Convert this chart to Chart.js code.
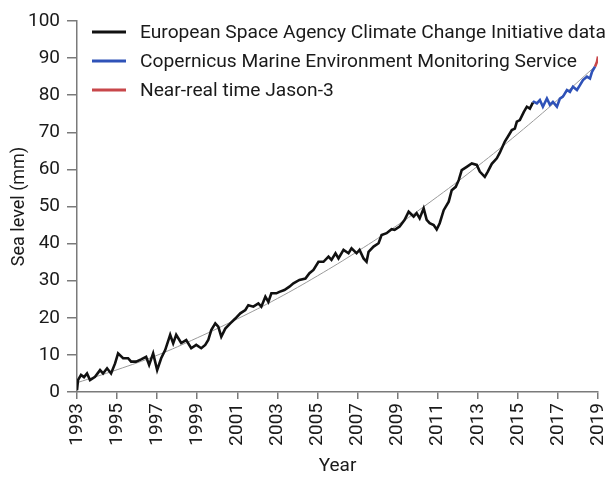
<!DOCTYPE html>
<html>
<head>
<meta charset="utf-8">
<script src="https://cdn.jsdelivr.net/npm/chart.js@4.4.1/dist/chart.umd.min.js"></script>
<style>
  html, body { margin: 0; padding: 0; background: #ffffff; }
  #wrap { width: 610px; height: 479px; position: relative; }
</style>
</head>
<body>
<div id="wrap"><canvas id="c" width="610" height="479"></canvas></div>
<script>
// ---- Data ----
const xTickYears = [1993, 1995, 1997, 1999, 2001, 2003, 2005, 2007, 2009, 2011, 2013, 2015, 2017, 2019];
const yTickValues = [0, 10, 20, 30, 40, 50, 60, 70, 80, 90, 100];

const esaYears = [
  1993.00, 1993.05, 1993.2, 1993.35, 1993.5, 1993.65, 1993.9, 1994.15, 1994.3, 1994.5, 1994.7, 1994.9,
  1995.05, 1995.3, 1995.55, 1995.7, 1995.95, 1996.2, 1996.45, 1996.6, 1996.8, 1997.0, 1997.2, 1997.4,
  1997.65, 1997.8, 1997.95, 1998.2, 1998.45, 1998.7, 1998.95, 1999.2, 1999.4, 1999.55, 1999.7, 1999.9,
  2000.05, 2000.2, 2000.4, 2000.65, 2000.9, 2001.15, 2001.4, 2001.55, 2001.8, 2002.05, 2002.2, 2002.4,
  2002.55, 2002.7, 2002.95, 2003.1, 2003.35, 2003.6, 2003.8, 2004.1, 2004.4, 2004.6, 2004.8, 2005.05,
  2005.3, 2005.55, 2005.7, 2005.9, 2006.05, 2006.3, 2006.55, 2006.7, 2006.95, 2007.1, 2007.3, 2007.45,
  2007.55, 2007.8, 2008.05, 2008.2, 2008.45, 2008.7, 2008.85, 2009.1, 2009.35, 2009.55, 2009.8, 2009.95,
  2010.1, 2010.3, 2010.45, 2010.6, 2010.8, 2010.95, 2011.1, 2011.3, 2011.55, 2011.7, 2011.9, 2012.05,
  2012.2, 2012.45, 2012.7, 2012.95, 2013.1, 2013.35, 2013.5, 2013.7, 2013.95, 2014.1, 2014.35, 2014.5,
  2014.7, 2014.85, 2014.95, 2015.1, 2015.3, 2015.45, 2015.6, 2015.75
];
const esaValues = [
  0.5, 3.2, 4.6, 4.0, 5.0, 3.2, 4.1, 5.9, 5.0, 6.4, 5.0, 7.7,
  10.4, 9.1, 9.1, 8.2, 8.2, 8.8, 9.5, 7.3, 10.4, 5.9, 9.1, 11.3,
  15.4, 13.1, 15.4, 13.2, 14.0, 11.8, 12.7, 11.8, 12.7, 14.0, 16.7, 18.5,
  17.6, 14.9, 17.1, 18.5, 19.8, 21.2, 22.1, 23.4, 23.0, 23.9, 23.0, 25.7,
  24.3, 26.6, 26.6, 27.0, 27.5, 28.4, 29.3, 30.2, 30.6, 32.0, 32.9, 35.1,
  35.1, 36.5, 35.6, 37.4, 36.0, 38.3, 37.4, 38.7, 37.4, 38.3, 36.0, 35.1,
  37.8, 39.2, 40.1, 42.3, 42.8, 43.9, 43.7, 44.6, 46.4, 48.6, 47.3, 48.2,
  46.8, 49.5, 46.4, 45.5, 45.0, 43.8, 45.5, 49.0, 51.3, 54.4, 55.3, 57.1,
  59.8, 60.7, 61.6, 61.2, 59.4, 58.0, 59.4, 61.5, 63.0, 64.5, 67.5, 68.8,
  70.6, 71.0, 72.9, 73.3, 75.5, 76.9, 76.4, 78.0
];

const cmemsYears = [
  2015.75, 2015.8, 2015.95, 2016.1, 2016.25, 2016.45, 2016.6, 2016.75, 2016.95, 2017.1, 2017.25,
  2017.45, 2017.6, 2017.75, 2017.95, 2018.1, 2018.25, 2018.45, 2018.6, 2018.7, 2018.85
];
const cmemsValues = [
  78.0, 78.2, 77.8, 78.7, 76.9, 79.1, 77.4, 78.2, 76.9, 79.1, 79.6,
  81.4, 80.9, 82.3, 81.4, 82.7, 84.1, 85.0, 84.5, 86.3, 87.7
];

const jasonYears = [2018.85, 2018.95, 2019.0];
const jasonValues = [87.7, 89.0, 90.4];

const trendYears = [1993, 1995, 1997, 1999, 2001, 2003, 2005, 2007, 2009, 2011, 2013, 2015, 2017, 2018.8];
const trendValues = [2.5, 6.0, 9.9, 14.6, 19.7, 25.2, 31.3, 37.9, 45.0, 52.7, 60.9, 69.6, 78.8, 87.5];

const seriesLabels = [
  'European Space Agency Climate Change Initiative data',
  'Copernicus Marine Environment Monitoring Service',
  'Near-real time Jason-3'
];

// ---- Build datasets ----
const toPoints = (xs, ys) => xs.map((x, i) => ({ x: x, y: ys[i] }));

const FONT = 'Roboto, "Liberation Sans", sans-serif';
const AXIS_COLOR = '#7a7a7a';
const TEXT_COLOR = '#1a1a1a';

const legendPlugin = {
  id: 'insideLegend',
  afterDraw(chart) {
    const ctx = chart.ctx;
    const rows = [32, 61, 90];
    ctx.save();
    ctx.font = '19.2px ' + FONT;
    ctx.textBaseline = 'middle';
    ctx.textAlign = 'left';
    for (let i = 0; i < 3; i++) {
      const ds = chart.data.datasets[i];
      ctx.strokeStyle = ds.borderColor;
      ctx.lineWidth = 3;
      ctx.beginPath();
      ctx.moveTo(92, rows[i]);
      ctx.lineTo(126, rows[i]);
      ctx.stroke();
      ctx.fillStyle = TEXT_COLOR;
      ctx.fillText(ds.label, 140, rows[i] + 1);
    }
    ctx.restore();
  }
};

new Chart(document.getElementById('c'), {
  type: 'line',
  data: {
    datasets: [
      { label: seriesLabels[0], data: toPoints(esaYears, esaValues), borderColor: '#111111', borderWidth: 2.6, pointRadius: 0, tension: 0, fill: false },
      { label: seriesLabels[1], data: toPoints(cmemsYears, cmemsValues), borderColor: '#2f52b8', borderWidth: 2.6, pointRadius: 0, tension: 0, fill: false },
      { label: seriesLabels[2], data: toPoints(jasonYears, jasonValues), borderColor: '#c8474a', borderWidth: 2.6, pointRadius: 0, tension: 0, fill: false },
      { label: 'trend', data: toPoints(trendYears, trendValues), borderColor: '#9a9a9a', borderWidth: 1, pointRadius: 0, tension: 0.4, fill: false }
    ]
  },
  options: {
    responsive: false,
    animation: false,
    events: [],
    layout: { padding: { top: 21, right: 12, bottom: 0, left: 0 } },
    plugins: { legend: { display: false }, tooltip: { enabled: false } },
    scales: {
      x: {
        type: 'linear',
        min: 1993,
        max: 2019,
        afterBuildTicks: (scale) => { scale.ticks = xTickYears.map(v => ({ value: v })); },
        afterFit: (scale) => { scale.height = 87; scale.paddingRight = 0; scale.paddingLeft = 0; },
        border: { display: true, color: AXIS_COLOR, width: 1.5 },
        grid: { display: true, drawOnChartArea: false, drawTicks: true, tickLength: 7, color: AXIS_COLOR, lineWidth: 1.5 },
        ticks: {
          autoSkip: false, maxRotation: 90, minRotation: 90, padding: 4,
          color: TEXT_COLOR, font: { family: FONT, size: 19 },
          callback: (v) => String(v)
        },
        title: { display: true, text: 'Year', color: TEXT_COLOR, font: { family: FONT, size: 19 }, padding: { top: 0, bottom: 1 } }
      },
      y: {
        min: 0,
        max: 100,
        afterBuildTicks: (scale) => { scale.ticks = yTickValues.map(v => ({ value: v })); },
        afterFit: (scale) => { scale.width = 77; scale.paddingTop = 0; scale.paddingBottom = 0; },
        border: { display: true, color: AXIS_COLOR, width: 1.5 },
        grid: { display: true, drawOnChartArea: false, drawTicks: true, tickLength: 10, color: AXIS_COLOR, lineWidth: 1.5 },
        ticks: { padding: 7, color: TEXT_COLOR, font: { family: FONT, size: 19 } },
        title: { display: true, text: 'Sea level (mm)', color: TEXT_COLOR, font: { family: FONT, size: 18 }, padding: { top: 9, bottom: 0 } }
      }
    }
  },
  plugins: [legendPlugin]
});
</script>
</body>
</html>
